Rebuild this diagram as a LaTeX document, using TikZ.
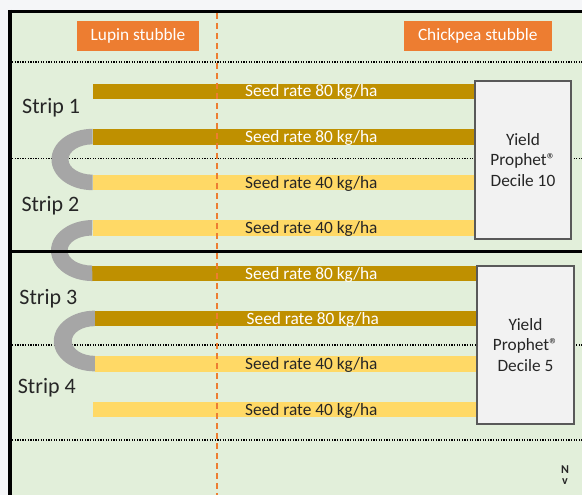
\documentclass[tikz,border=0pt]{standalone}
\usepackage{fontspec}
\setmainfont{Carlito}
\definecolor{pagebg}{HTML}{F5F6F8}
\definecolor{fieldgreen}{HTML}{E2EFDA}
\definecolor{darkgold}{HTML}{BF9000}
\definecolor{lightgold}{HTML}{FFD966}
\definecolor{stubble}{HTML}{ED7D31}
\definecolor{uturngray}{HTML}{A6A6A6}
\definecolor{ypfill}{HTML}{F2F2F2}
\definecolor{ypborder}{HTML}{595959}
\definecolor{darktext}{HTML}{262626}
\tikzset{
  darkbar/.style={fill=darkgold, draw=none, inner sep=0pt, minimum height=15.5pt},
  lightbar/.style={fill=lightgold, draw=none, inner sep=0pt, minimum height=15.5pt},
  bartext/.style={anchor=base west, inner sep=0pt, font=\fontsize{17.3}{20.5}\selectfont},
  striplabel/.style={anchor=base west, inner sep=0pt, text=darktext, font=\fontsize{22}{26}\selectfont},
  stubblebox/.style={fill=stubble, text=white, inner sep=0pt, font=\fontsize{17.3}{20.5}\selectfont},
  ypbox/.style={fill=ypfill, draw=ypborder, line width=1.2pt, inner sep=0pt},
  yptext/.style={align=center, text=darktext, inner sep=0pt, font=\fontsize{17.3}{20.5}\selectfont},
  dotline/.style={black, line width=1.3pt, dash pattern=on 1.3pt off 1.3pt},
  uturn/.style={fill=uturngray, draw=none},
  northmark/.style={inner sep=0pt, text=darktext, font=\fontsize{12}{13}\selectfont\bfseries},
}
\begin{document}
\begin{tikzpicture}[x=1pt,y=-1pt]
\useasboundingbox (0,0) rectangle (582,495);
\fill[pagebg] (0,0) rectangle (582,495);
\fill[fieldgreen] (10,11.5) rectangle (582,495);

% dotted strip boundaries
\draw[dotline] (12,62) -- (582,62);
\draw[dotline] (12,158.7) -- (582,158.7);
\draw[dotline] (12,345) -- (582,345);
\draw[dotline] (12,440) -- (582,440);

% bars
\node[darkbar, minimum width=382.3pt] (b1) at (283.85,91.3) {};
\node[darkbar, minimum width=382.3pt] (b2) at (283.85,136.8) {};
\node[lightbar, minimum width=382.3pt] (b3) at (283.85,182.6) {};
\node[lightbar, minimum width=382.3pt] (b4) at (283.85,228) {};
\node[darkbar, minimum width=384.7pt] (b5) at (284.65,273.5) {};
\node[darkbar, minimum width=382pt] (b6) at (286,318.6) {};
\node[lightbar, minimum width=382pt] (b7) at (286,363.8) {};
\node[lightbar, minimum width=384pt] (b8) at (285,409.7) {};

% U-turns
\fill[uturn] (b2.north west) arc[start angle=270, end angle=90, x radius=41, y radius=30.65]
  -- (b3.north west) arc[start angle=90, end angle=270, x radius=24, y radius=15.15] -- cycle;
\fill[uturn] (b4.north west) arc[start angle=270, end angle=90, x radius=41.5, y radius=30.5]
  -- (b5.north west) arc[start angle=90, end angle=270, x radius=24.5, y radius=15] -- cycle;
\fill[uturn] (b6.north west) arc[start angle=270, end angle=90, x radius=41, y radius=30.35]
  -- (b7.north west) arc[start angle=90, end angle=270, x radius=23, y radius=14.85] -- cycle;

% thick division line
\draw[black, line width=2.6pt] (10,251.5) -- (582,251.5);

% bar texts
\node[bartext, text=white] (t1) at (245,96.9) {Seed rate 80 kg/ha};
\node[bartext, text=white] (t2) at (245,142.4) {Seed rate 80 kg/ha};
\node[bartext, text=darktext] (t3) at (245,188.2) {Seed rate 40 kg/ha};
\node[bartext, text=darktext] (t4) at (245,233.6) {Seed rate 40 kg/ha};
\node[bartext, text=white] (t5) at (245,279.1) {Seed rate 80 kg/ha};
\node[bartext, text=white] (t6) at (246.5,324.2) {Seed rate 80 kg/ha};
\node[bartext, text=darktext] (t7) at (245,369.4) {Seed rate 40 kg/ha};
\node[bartext, text=darktext] (t8) at (245,415.3) {Seed rate 40 kg/ha};

% Yield Prophet boxes
\node[ypbox, minimum width=96pt, minimum height=158pt] (yp1) at (523,160) {};
\node[yptext] (yp1t) at (yp1.center) {Yield\\Prophet®\\Decile 10};
\node[ypbox, minimum width=97pt, minimum height=158pt] (yp2) at (525.5,345) {};
\node[yptext] (yp2t) at (yp2.center) {Yield\\Prophet®\\Decile 5};

% stubble labels
\node[stubblebox, minimum width=122.6pt, minimum height=30pt] (lupin) at (138,35.7) {Lupin stubble};
\node[stubblebox, minimum width=147.7pt, minimum height=30pt] (chick) at (477.8,35.7) {Chickpea stubble};

% strip labels
\node[striplabel] (s1) at (22,113.3) {Strip 1};
\node[striplabel] (s2) at (21.3,211.7) {Strip 2};
\node[striplabel] (s3) at (19.3,304) {Strip 3};
\node[striplabel] (s4) at (17.7,393.3) {Strip 4};

% stubble divider
\draw[stubble, line width=2pt, dash pattern=on 6pt off 4pt] (217,13) -- (217,495);

% frame
\draw[black, line width=3pt] (8,11.5) -- (582,11.5);
\draw[black, line width=4pt] (10,10) -- (10,495);

% north marker
\node[northmark] (north) at (565,470) {N};
\node[northmark] (northv) at (565,481.5) {v};
\end{tikzpicture}
\end{document}
